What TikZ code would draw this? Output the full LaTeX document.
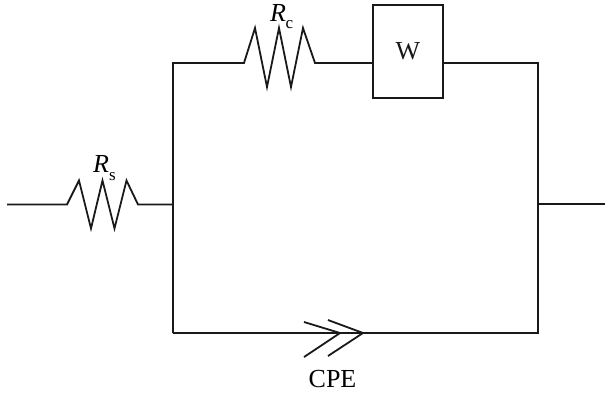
\documentclass[tikz,border=0pt]{standalone}
\usepackage{fontspec}
\setmainfont{Liberation Serif}
\tikzset{
  wire/.style={line width=1.8pt,line join=miter,black!90},
  lbl/.style={inner sep=0pt,font=\fontsize{26}{28}\selectfont},
  sub/.style={inner sep=0pt,font=\fontsize{17}{18}\selectfont},
  wbox/.style={draw,line width=1.8pt,black!90,minimum width=70pt,minimum height=93pt,inner sep=0pt,font=\fontsize{26}{28}\selectfont},
}
\begin{document}
\begin{tikzpicture}[x=1pt,y=-1pt]
\useasboundingbox (0,0) rectangle (606,392);
\coordinate (in) at (7,204.5);
\coordinate (rs1) at (67,204.5);
\coordinate (rs2) at (138,204.5);
\coordinate (jl) at (173,204.5);
\coordinate (tl) at (173,63);
\coordinate (bl) at (173,333);
\coordinate (rc1) at (244,63);
\coordinate (rc2) at (315,63);
\node[wbox] (W) at (408,51.5) {W};
\coordinate (tr) at (538,63);
\coordinate (br) at (538,333);
\coordinate (jr) at (538,204);
\coordinate (out) at (605,204);
\coordinate (cpe1) at (340,333);
\coordinate (cpe2) at (363,333);
\draw[wire] (in) -- (rs1) -- ++(12,-24) -- ++(12,48) -- ++(11.5,-48) -- ++(12,48) -- ++(12,-48) -- (rs2) -- (jl);
\draw[wire] (bl) -- (tl) -- (rc1) -- ++(11,-35) -- ++(12,59) -- ++(12,-59) -- ++(12,59) -- ++(12,-59) -- (rc2) -- (W.west |- rc2);
\draw[wire] (W.east |- tr) -- (tr) -- (br) -- (cpe2) -- (bl);
\draw[wire] (jr) -- (out);
\draw[wire] (304,322) -- (cpe1) -- (304,357);
\draw[wire] (328,320) -- (cpe2) -- (328,356);
\node[lbl,anchor=base west] (rsl) at (93,172) {\textit{R}};
\node[sub,anchor=base west] (rss) at (109,180) {s};
\node[lbl,anchor=base west] (rcl) at (270,21.5) {\textit{R}};
\node[sub,anchor=base west] (rcs) at (285.5,28) {c};
\node[lbl,anchor=base] (cpe) at (332.5,387) {CPE};
\end{tikzpicture}
\end{document}
